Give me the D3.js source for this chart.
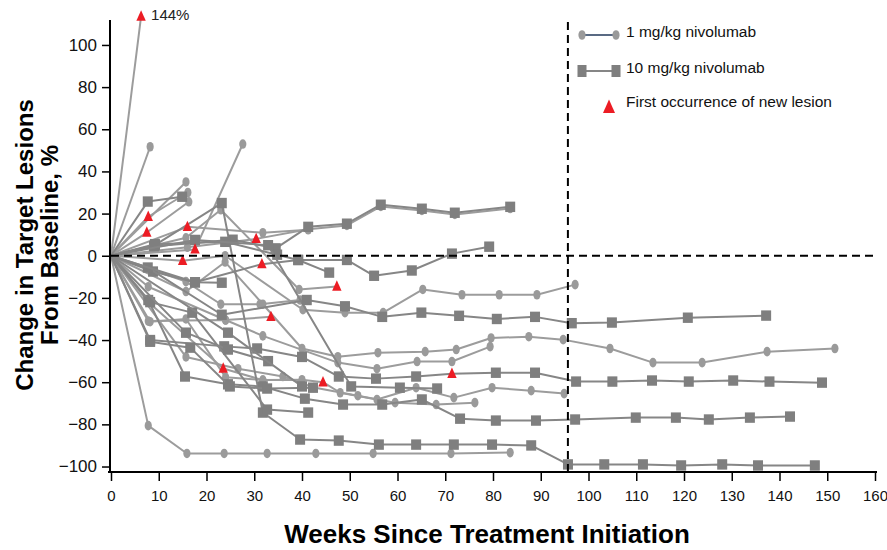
<!DOCTYPE html>
<html>
<head>
<meta charset="utf-8">
<script src="https://cdn.jsdelivr.net/npm/d3@7"></script>
<style>
  body { margin: 0; background: #fff; }
  svg { display: block; }
  text { font-family: "Liberation Sans", Arial, Helvetica, sans-serif; }
</style>
</head>
<body>
<svg id="chart" width="887" height="550"></svg>
<script>
// ---- Data: one entry per patient (spider plot of target lesion change) ----
const doses = [
  "1","1","1","1","1","1","1","1","1","1","1","1","1","1","1","1","1","1",
  "10","10","10","10","10","10","10","10","10","10","10","10","10","10"
];

const weeks = [
  [0,6.3],
  [0,8.2],
  [0,15.7],
  [0,7.8,16.1],
  [0,7.5,16.3],
  [0,17.6,27.6],
  [0,15.7,23,39.4,47.3],
  [0,16,31.8,41.3],
  [0,16,30.4,41.3,49.4,56.5,65.1,72,83.6],
  [0,15,23.9,40.2,49,57,65.3,73.5,81.3,89.2,97.2],
  [0,15.7,23,31.2,39.6],
  [0,15.7,23.9,31.8,40,47.5,55.9,65.8,72.3,79.6,87.5,94.7,104.5,113.5,123.8,137.4,151.6],
  [0,7.8,24,31.8,47.5,55.7,64.1,71.4,79.4],
  [0,15.7,26.6,36,42.5,51.7,59.5,68.1,76.2],
  [0,8.2,15.7,24,31.8,40,44.4,48,55.7,63.9,71.8,79.8,88,94.9],
  [0,7.8,23.5,31.8],
  [0,7.8,15.9,23.7,32.7,42.9,54.9,71.2,83.6],
  [0,7.8,24,33.5],
  // 10 mg/kg
  [0,7.7,14.9],
  [0,9.2,23.2,31.8,39.6,47.7,56.1,63.9,71.8,79.8,88,95.7,103.3,111.4,119.4,128,135.5,147.4],
  [0,9,25.5,34.5,41.3,49.4,56.5,65.1,72,83.6],
  [0,9.2,23.9,34.8,39.2,49.4,55.1,63,71.4,79.2],
  [0,8.8,17.6,31.6,39.2,45.7],
  [0,17.6,32.9,50.3,60.5,68.3],
  [0,7.7,23.2,41,49,56.8,65,72.9,80.8,88.8,96.5,104.9,120.8,137.2],
  [0,8.2,23.7,30.6,40,47.7,55.5,63.9,71.4,80.6,88.8,97.4,105,113.3,121,130.3,137.9,148.9],
  [0,7.8,15.5,24.5,31.8,40.6,48.6,56.8,65.1,73.1,80.6,89,97.2,109.9,118.3,125.2,133.8,142.2],
  [0,8.2,16.6,24.9,32.7,42.3],
  [0,8.2,17,32.7,41.3],
  [0,15.7,24.5,32.9],
  [0,17.6,23.2],
  [0,24.5,40]
];

const changes = [
  [0,144],
  [0,51.7],
  [0,35],
  [0,18.5,30],
  [0,11,25.6],
  [0,3,53],
  [0,8.5,21.8,-16,-14.6],
  [0,13.7,10.9,12.3],
  [0,4,8,12.6,14.4,23.4,21.5,19.6,22.4],
  [0,-2.4,0,-25.6,-27,-27,-16,-18.5,-18.5,-18.5,-13.7],
  [0,-12.3,-23,-23,-21],
  [0,-17,-3,-23,-44,-47.9,-46,-45.5,-44.5,-39,-38.4,-39.8,-44,-50.7,-50.7,-45.5,-44],
  [0,-31,-30.5,-38,-50.7,-53.6,-50.2,-50.2,-43.1],
  [0,-48,-53.6,-57.3,-62.5,-66.4,-69.7,-70.6,-69.7],
  [0,-31.3,-30,-57.6,-59,-58.8,-60,-65,-68.2,-62.6,-67.3,-62.6,-64,-65.4],
  [0,-22,-53.5,-59],
  [0,-80.6,-93.8,-93.8,-93.8,-93.8,-93.8,-93.8,-93.4],
  [0,-14.7,-30.5,-29],
  // 10 mg/kg
  [0,25.7,28],
  [0,5,25,-74.4,-87.2,-87.7,-89.6,-89.6,-89.6,-89.6,-90,-99,-99,-99,-99.5,-99,-99.5,-99.5],
  [0,4.5,7.6,3.5,13.7,15.2,24.2,22.3,20.4,23.2],
  [0,5.5,6.6,0.5,-2,-2,-9.5,-7,1,4.3],
  [0,-7.5,-12.6,-4,-2,-8],
  [0,7.5,5,-62,-62.6,-63],
  [0,-5.6,-28,-21,-24,-29,-27,-28.5,-30,-29,-32,-31.7,-29.4,-28.4],
  [0,-40,-43,-44,-48,-57.3,-58.3,-57.3,-56,-55.5,-55.5,-59.7,-59.7,-59.2,-59.7,-59.2,-59.7,-60.2],
  [0,-21,-57.3,-61,-62,-67.8,-70.6,-70.6,-68.2,-77.3,-78.2,-78.2,-77.7,-76.8,-76.8,-77.7,-76.8,-76.3],
  [0,-40.8,-43.6,-62,-63,-62.6],
  [0,-22,-27,-73,-74.4],
  [0,-36.5,-44.5,-50],
  [0,-12.6,-12.8],
  [0,-36.5,-62]
];

// Week of first new lesion for each patient (null = none)
const newLesionWeek = [
  6.3, null, null, 7.8, 7.5, 17.6, 47.3, 16, 30.4, 15, null, null, null, null, 44.4, 23.5, null, 33.5,
  null, null, null, null, 31.6, null, null, 71.4, null, null, null, null, null, null
];

const xTicks = [0,10,20,30,40,50,60,70,80,90,100,110,120,130,140,150,160];
const yTicks = [-100,-80,-60,-40,-20,0,20,40,60,80,100];
const cutoffWeek = 96;
const legendLabels = ["1 mg/kg nivolumab", "10 mg/kg nivolumab", "First occurrence of new lesion"];

// ---- Chart ----
const svg = d3.select("#chart");
const x = d3.scaleLinear().domain([0, 160]).range([111, 875]);
const y = d3.scaleLinear().domain([-102.6, 113.5]).range([472, 16.5]).clamp(true);

const style = {
  "1":  { line: "#9c9c9c", fill: "#9a9a9a" },
  "10": { line: "#868686", fill: "#7f7f7f" }
};
const red = "#ec1c24";
const triPath = "M0,-6.2L4.7,4.2L-4.7,4.2Z";

const line = d3.line().x(d => x(d[0])).y(d => y(d[1]));
const plot = svg.append("g");

weeks.forEach((ws, i) => {
  const pts = ws.map((w, j) => [w, changes[i][j]]);
  const st = style[doses[i]];
  const g = plot.append("g");
  g.append("path")
    .attr("d", line(pts))
    .attr("fill", "none")
    .attr("stroke", st.line)
    .attr("stroke-width", 2)
    .attr("stroke-linejoin", "round");
  pts.slice(1).forEach(p => {
    if (newLesionWeek[i] !== null && p[0] === newLesionWeek[i]) return;
    if (doses[i] === "1") {
      g.append("ellipse")
        .attr("cx", x(p[0])).attr("cy", y(p[1]))
        .attr("rx", 3.6).attr("ry", 4.8)
        .attr("fill", st.fill);
    } else {
      g.append("rect")
        .attr("x", x(p[0]) - 5).attr("y", y(p[1]) - 5.2)
        .attr("width", 10).attr("height", 10.4)
        .attr("fill", st.fill);
    }
  });
});

// New-lesion triangles on top
weeks.forEach((ws, i) => {
  if (newLesionWeek[i] === null) return;
  const j = ws.indexOf(newLesionWeek[i]);
  const v = changes[i][j];
  plot.append("path")
    .attr("d", triPath)
    .attr("transform", `translate(${x(ws[j])},${y(v)})`)
    .attr("fill", red);
  if (v > y.domain()[1]) {
    plot.append("text")
      .attr("x", x(ws[j]) + 10).attr("y", y(v) + 3)
      .attr("font-size", 15).attr("fill", "#222")
      .text(v + "%");
  }
});

// Reference lines
svg.append("line")
  .attr("x1", x(0)).attr("x2", x(160) + 1)
  .attr("y1", y(0)).attr("y2", y(0))
  .attr("stroke", "#000").attr("stroke-width", 2)
  .attr("stroke-dasharray", "8,5");
svg.append("line")
  .attr("x1", x(cutoffWeek) - 1.5).attr("x2", x(cutoffWeek) - 1.5)
  .attr("y1", 22).attr("y2", 472)
  .attr("stroke", "#000").attr("stroke-width", 2)
  .attr("stroke-dasharray", "8,5");

// Axes
const yAxis = svg.append("g")
  .attr("transform", `translate(${x(0) - 1},0)`)
  .call(d3.axisLeft(y).tickValues(yTicks).tickSize(8).tickPadding(5));
yAxis.select(".domain").remove();
yAxis.selectAll(".tick line").attr("stroke-width", 1.5);
yAxis.selectAll("text").attr("font-size", 17).attr("font-family", "'Liberation Sans', Arial, sans-serif").attr("fill", "#111");
svg.append("line")
  .attr("x1", x(0) - 1).attr("x2", x(0) - 1)
  .attr("y1", 20).attr("y2", 473)
  .attr("stroke", "#000").attr("stroke-width", 2);

const xAxis = svg.append("g")
  .attr("transform", "translate(0,472)")
  .call(d3.axisBottom(x).tickValues(xTicks).tickSize(9).tickPadding(9));
xAxis.select(".domain").remove();
xAxis.selectAll(".tick line").attr("stroke-width", 1.5);
xAxis.selectAll("text").attr("font-size", 15).attr("font-family", "'Liberation Sans', Arial, sans-serif").attr("fill", "#111");
svg.append("line")
  .attr("x1", x(0) - 3).attr("x2", x(160) + 2)
  .attr("y1", 472).attr("y2", 472)
  .attr("stroke", "#000").attr("stroke-width", 2);

// Axis titles
svg.append("text")
  .attr("x", 487).attr("y", 543)
  .attr("text-anchor", "middle")
  .attr("font-size", 26).attr("font-weight", "bold")
  .text("Weeks Since Treatment Initiation");

const yTitle = svg.append("text")
  .attr("transform", "translate(0,245) rotate(-90)")
  .attr("text-anchor", "middle")
  .attr("font-size", 24).attr("font-weight", "bold");
yTitle.append("tspan").attr("x", 0).attr("y", 33).text("Change in Target Lesions");
yTitle.append("tspan").attr("x", 0).attr("y", 58).text("From Baseline, %");

// Legend
const lg = svg.append("g");
lg.append("line").attr("x1", 582).attr("x2", 616).attr("y1", 35).attr("y2", 35)
  .attr("stroke", "#22385a").attr("stroke-width", 1.6);
[582, 616].forEach(cx => lg.append("ellipse").attr("cx", cx).attr("cy", 35)
  .attr("rx", 3.6).attr("ry", 4.8).attr("fill", style["1"].fill));
lg.append("line").attr("x1", 582).attr("x2", 616).attr("y1", 71).attr("y2", 71)
  .attr("stroke", style["10"].line).attr("stroke-width", 2);
[582, 616].forEach(cx => lg.append("rect").attr("x", cx - 4.5).attr("y", 65)
  .attr("width", 9).attr("height", 12).attr("fill", style["10"].fill));
lg.append("path").attr("d", "M0,-7.5L6,6L-6,6Z")
  .attr("transform", "translate(609,107)").attr("fill", red);
legendLabels.forEach((t, k) => {
  lg.append("text")
    .attr("x", 626).attr("y", [37, 73, 107][k])
    .attr("font-size", 15.5).attr("fill", "#111")
    .text(t);
});
</script>
</body>
</html>
